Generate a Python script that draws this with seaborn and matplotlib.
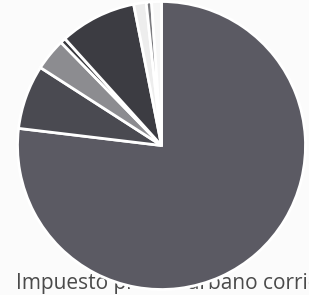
import matplotlib
matplotlib.use('Agg')
import matplotlib.pyplot as plt
import seaborn as sns

sns.set_theme(style='white')
plt.rcParams['font.family'] = ['Open Sans', 'DejaVu Sans']

# Data (shares, clockwise from top)
categories = ['Impuesto predial urbano corriente', 'Impuesto predial rústico',
              'Alcabalas', 'Patentes', 'Tasas', 'Contribuciones especiales',
              'Multas', 'Otros']
shares = [76.9, 7.2, 3.6, 0.6, 8.6, 1.4, 0.6, 1.1]
colors = ['#5b5a63', '#4a4a51', '#8c8c90', '#3a3a3f', '#3c3c42',
          '#ededed', '#7a7a7e', '#f6f6f6']

fig = plt.figure(figsize=(3.09, 2.95), dpi=100)
fig.patch.set_facecolor('#fbfbfb')
# pie centre ~ (161.5, 145.5) px, radius ~ 144 px
ax = fig.add_axes([(161.5 - 144) / 309, (295 - 145.5 - 144) / 295,
                   288 / 309, 288 / 295])
ax.pie(shares, colors=colors, startangle=90, counterclock=False,
       wedgeprops={'edgecolor': 'white', 'linewidth': 2})
ax.set_xlim(-1, 1)
ax.set_ylim(-1, 1)
ax.set_aspect('equal')
ax.patch.set_alpha(0)

# label sits behind the pie, as in the original
fig.text(0.052, 0.022, categories[0], fontsize=15, color='#4a4a4a',
         ha='left', va='baseline', zorder=-1)

fig.savefig('out.png', dpi=100, facecolor=fig.get_facecolor())
plt.close(fig)
